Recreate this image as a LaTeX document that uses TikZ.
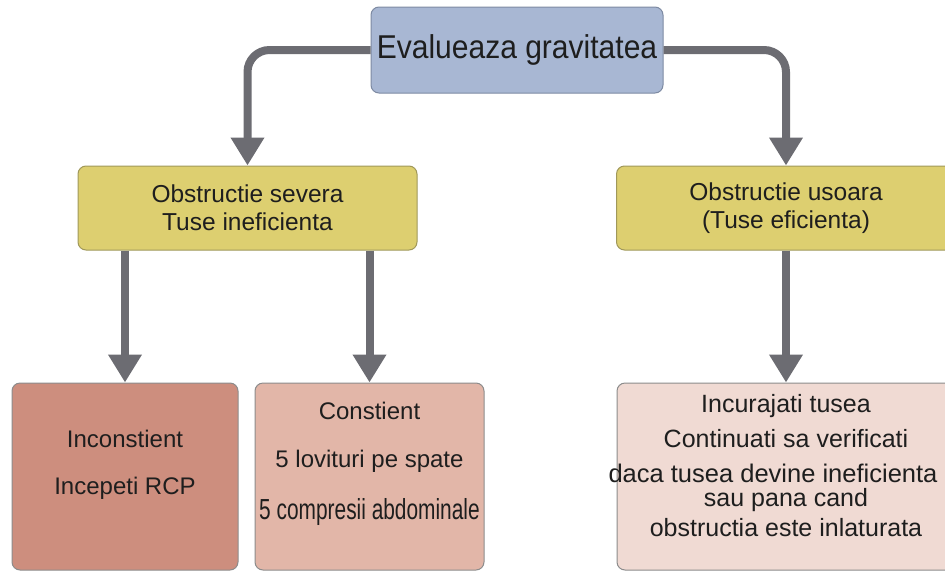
\documentclass[tikz,border=0pt]{standalone}
\usepackage{fontspec}
\setmainfont{Liberation Sans}
\usepackage{graphicx}
\usepackage{tikz}
\usetikzlibrary{shapes.geometric, arrows.meta, positioning}
\usepackage{xcolor}
\definecolor{evalblue}{RGB}{168,183,211}
\definecolor{evalline}{RGB}{125,138,162}
\definecolor{obsyellow}{RGB}{221,207,112}
\definecolor{obsline}{RGB}{160,152,90}
\definecolor{uncred}{RGB}{205,142,126}
\definecolor{conpink}{RGB}{226,182,168}
\definecolor{incpink}{RGB}{240,218,211}
\definecolor{boxline}{RGB}{140,140,140}
\definecolor{arrowgray}{RGB}{108,108,114}
\definecolor{textdark}{RGB}{30,30,30}
\tikzstyle{evalbox} = [rectangle, rounded corners=8pt, minimum width=292pt, minimum height=86pt, inner sep=0pt, text centered, draw=evalline, line width=1pt, fill=evalblue, text=textdark, font=\fontsize{33}{36}\selectfont]
\tikzstyle{obsbox} = [rectangle, rounded corners=8pt, minimum width=339pt, minimum height=84pt, inner sep=0pt, align=center, draw=obsline, line width=1pt, fill=obsyellow, text=textdark, font=\fontsize{24.5}{28}\selectfont]
\tikzstyle{stepbox} = [rectangle, rounded corners=8pt, minimum height=187pt, inner sep=0pt, draw=boxline, line width=1pt]
\tikzstyle{boxtext} = [inner sep=0pt, align=center, text=textdark, anchor=north]
\tikzstyle{arrow} = [line width=8pt, draw=arrowgray, -{Triangle[width=32pt,length=28pt]}]

\begin{document}
\begin{tikzpicture}[x=1pt, y=-1pt, node distance=158pt]
\useasboundingbox (0,0) rectangle (945,571);
\clip (0,0) rectangle (945,571);

% Nodes
\node (eval) [evalbox] at (517,50) {\scalebox{0.91}[1]{Evalueaza gravitatea}};
\node (severa) [obsbox, below of=eval, xshift=-269.5pt] {Obstructie severa\\Tuse ineficienta};
\node (usoara) [obsbox, below of=eval, xshift=269pt] {Obstructie usoara\\(Tuse eficienta)};

\node (incon) [stepbox, fill=uncred, minimum width=226pt, below of=severa, node distance=268.5pt, xshift=-122.5pt] {};
\node (con) [stepbox, fill=conpink, minimum width=229pt, below of=severa, node distance=268.5pt, xshift=122pt] {};
\node (tuse) [stepbox, fill=incpink, minimum width=338pt, below of=usoara, node distance=268.5pt] {};

% Texts in the lower boxes
\node (incontext) [boxtext, font=\fontsize{24}{29}\selectfont] at ([yshift=-47pt]incon.north) {Inconstient\\[18pt]Incepeti RCP};
\node (context) [boxtext, font=\fontsize{24}{29}\selectfont] at ([yshift=-19pt]con.north) {Constient\\[19pt]5 lovituri pe spate\\[23pt]\scalebox{0.72}[1]{\fontsize{29}{29}\selectfont 5 compresii abdominale}};
\node (tusetext) [boxtext, font=\fontsize{25}{35}\selectfont] at ([yshift=-12pt]tuse.north) {Incurajati tusea\\Continuati sa verificati\\\mbox{\fontsize{25.5}{35}\selectfont daca tusea devine ineficienta\kern26pt}\\[-11pt]sau pana cand\\[-5pt]obstructia este inlaturata};

% Arrows
\draw [arrow, rounded corners=22pt] (eval.west) -| (severa.north);
\draw [arrow, rounded corners=22pt] (eval.east) -| (usoara.north);
\draw [arrow] (incon.north |- severa.south) -- (incon.north);
\draw [arrow] (con.north |- severa.south) -- (con.north);
\draw [arrow] (usoara.south) -- (tuse.north);

\end{tikzpicture}
\end{document}
